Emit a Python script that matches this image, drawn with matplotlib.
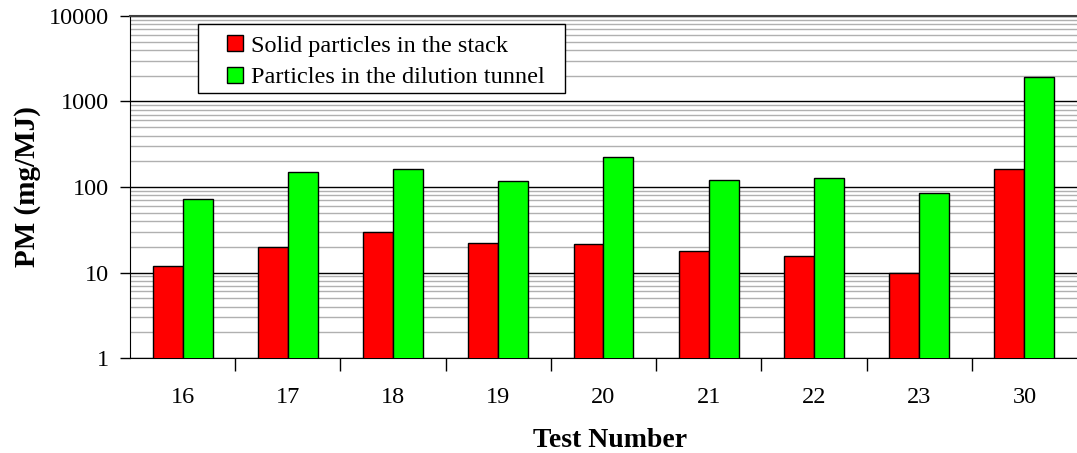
import numpy as np
import matplotlib.pyplot as plt
from matplotlib.ticker import LogLocator, FixedLocator, NullFormatter
from matplotlib.lines import Line2D
from matplotlib.patches import Rectangle

# dados
tests = ['16', '17', '18', '19', '20', '21', '22', '23', '30']
stack = [12, 20, 30, 22, 21.5, 18, 15.5, 9.9, 163]
tunnel = [73, 150, 163, 118, 225, 121, 129, 86, 1950]
labels = ['Solid particles in the stack', 'Particles in the dilution tunnel']
cores = ['#ff0000', '#00ff00']

plt.rcParams['font.family'] = ['Liberation Serif', 'DejaVu Serif']

fig = plt.figure(figsize=(10.77, 4.53), dpi=100)
ax = fig.add_axes([0.1207, 0.2097, 0.8793, 0.755])

x = np.arange(len(tests))
w = 0.285
ax.bar(x - w/2, stack, width=w, color=cores[0], edgecolor='black', linewidth=1.0, zorder=3)
ax.bar(x + w/2, tunnel, width=w, color=cores[1], edgecolor='black', linewidth=1.0, zorder=3)

ax.set_yscale('log')
ax.set_ylim(1, 10000)
ax.set_xlim(-0.5, len(tests) - 0.5)
ax.set_yticks([1, 10, 100, 1000, 10000])
ax.set_yticklabels(['1', '10', '100', '1000', '10000'])
ax.yaxis.set_minor_locator(LogLocator(base=10, subs=np.arange(2, 10)))
ax.yaxis.set_minor_formatter(NullFormatter())
ax.tick_params(axis='y', which='minor', length=0)
ax.tick_params(axis='y', which='major', length=7, width=1, labelsize=17.5, pad=8)

# grade
ax.grid(True, axis='y', which='major', color='black', linewidth=1.0, zorder=0)
ax.grid(True, axis='y', which='minor', color='#b0b0b0', linewidth=1.0, zorder=0)

# ticks do eixo x entre as categorias
ax.set_xticks(x)
ax.set_xticklabels(tests)
ax.tick_params(axis='x', which='major', length=0, labelsize=17.5, pad=21)
ax.xaxis.set_minor_locator(FixedLocator(np.arange(0.5, len(tests) - 0.5)))
ax.tick_params(axis='x', which='minor', length=9, width=1, direction='out')

ax.spines['right'].set_visible(False)
ax.spines['top'].set_color('#404040')
ax.spines['top'].set_linewidth(1.5)

ax.set_xlabel('Test Number', fontsize=20, fontweight='bold')
ax.xaxis.set_label_coords(0.507, -0.205)
ax.set_ylabel('PM (mg/MJ)', fontsize=21, fontweight='bold', labelpad=6)

# moldura da legenda desenhada a parte
ax.add_patch(Rectangle((0.0718, 0.7749), 0.3875, 0.2017, transform=ax.transAxes,
                       facecolor='white', edgecolor='black', linewidth=1.0, zorder=5))
handles = [Line2D([], [], marker='s', linestyle='none', markersize=12,
                  markerfacecolor=c, markeredgecolor='black', markeredgewidth=1.0)
           for c in cores]
leg = ax.legend(handles, labels, loc='upper left', bbox_to_anchor=(0.0982, 0.945),
                fontsize=17.5, frameon=False, handlelength=1.0, handletextpad=0.15,
                borderpad=0, labelspacing=0.38, borderaxespad=0)
leg.set_zorder(6)

fig.savefig('out.png', dpi=100)
